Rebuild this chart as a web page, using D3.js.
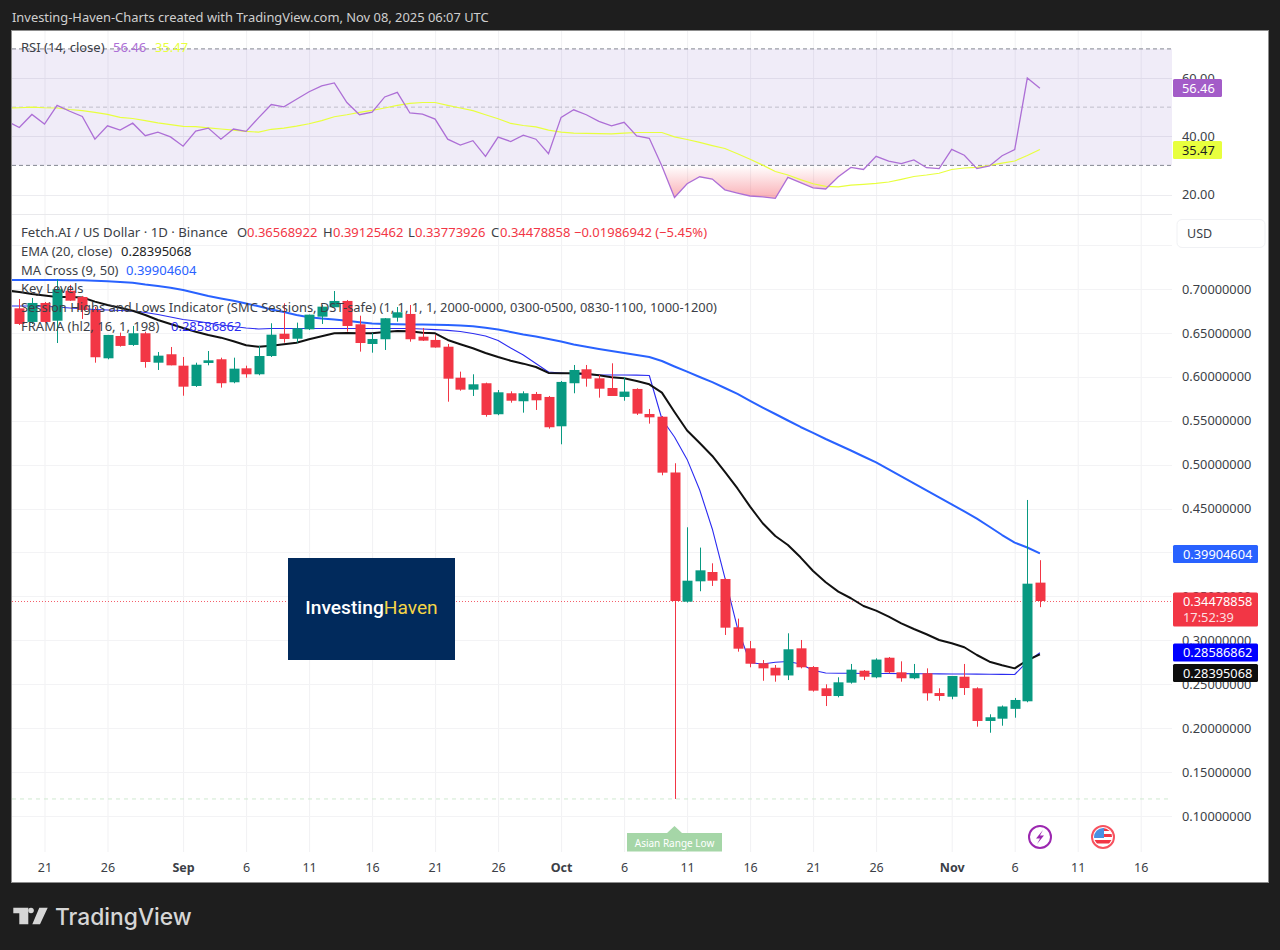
<!DOCTYPE html>
<html><head><meta charset="utf-8">
<script src="https://cdnjs.cloudflare.com/ajax/libs/d3/7.8.5/d3.min.js"></script>
<style>html,body{margin:0;padding:0;background:#1e1e1e}svg{display:block}text{font-family:"Noto Sans",sans-serif}</style>
</head><body><svg id="c" width="1280" height="950"></svg>
<script>
// first line-value date is 18 Aug 2025; candles start 19 Aug
const opens=[.6780,.6625,.6841,.6639,.6981,.6909,.6761,.6211,.6465,.6363,.6496,.6161,.6257,
.6127,.5896,.6158,.6200,.5938,.6097,.6029,.6237,.6491,.6434,.6541,.6685,.6792,.6864,.6598,.6374,.6428,.6673,.6716,.6457,.6420,.6343,.5990,.5854,.5927,.5574,.5813,.5722,.5805,.5771,
.5437,.5927,.6086,.5983,.5873,.5771,.5862,.5577,.5546,.4911,.3440,.3672,.3778,.3698,.3149,.2909,.2739,.2688,.2600,.2909,.2696,.2454,.2366,.2518,.2654,.2579,.2802,.2636,.2568,.2625,.2400,
.2358,.2586,.2454,.2082,.2108,.2220,.2306,.36568922];
const highs=[.6886,.6898,.6852,.7114,.7046,.6921,.6795,.6477,.6503,.6579,.6514,.6283,.6340,
.6226,.6161,.6294,.6218,.6218,.6127,.6352,.6610,.6837,.6617,.6708,.6818,.6977,.6875,.6696,.6499,.6670,.6795,.6818,.6556,.6477,.6374,.6059,.6029,.5934,.5850,.5835,.5835,.5828,.5782,
.5953,.6135,.6135,.6021,.6154,.5995,.5870,.5634,.5554,.5016,.4287,.4056,.3877,.3706,.3247,.2993,.2776,.2719,.3080,.3004,.2707,.2499,.2579,.2731,.2662,.2795,.2810,.2761,.2731,.2681,.2454,
.2594,.2731,.2465,.2158,.2258,.2344,.4598,.39125462];
const lows=[.6590,.6602,.6613,.6385,.6864,.6659,.6161,.6200,.6344,.6352,.6104,.6078,.6131,
.5785,.5885,.6131,.5877,.5927,.5990,.6018,.6226,.6389,.6389,.6533,.6602,.6789,.6514,.6287,.6275,.6306,.6628,.6400,.6408,.6332,.5717,.5842,.5782,.5546,.5563,.5706,.5592,.5623,.5410,
.5232,.5813,.5888,.5763,.5862,.5728,.5566,.5467,.4879,.1194,.3430,.3559,.3619,.3061,.2871,.2693,.2540,.2529,.2548,.2681,.2416,.2252,.2351,.2507,.2548,.2568,.2625,.2529,.2557,.2313,.2313,
.2329,.2378,.2017,.1948,.2028,.2119,.2295,.33773926];
const closes=[.6602,.6841,.6625,.6997,.6867,.6761,.6223,.6477,.6352,.6496,.6169,.6241,.6131,
.5888,.6138,.6188,.5927,.6093,.6029,.6237,.6480,.6431,.6553,.6708,.6799,.6864,.6579,.6385,.6431,.6667,.6735,.6428,.6412,.6334,.5979,.5854,.5915,.5566,.5824,.5728,.5813,.5733,.5426,
.5942,.6078,.5979,.5865,.5782,.5832,.5581,.5539,.4909,.34478,.3679,.3797,.3679,.3144,.2905,.2734,.2681,.2600,.2898,.2693,.2427,.2366,.2522,.2666,.2586,.2781,.2636,.2568,.2625,.2397,.2366,
.2594,.2457,.2082,.2124,.2247,.2321,.3645,.34478858];
const ema=[.6983,.6966,.6943,.6926,.6909,.6909,.6903,.6856,.6818,.6787,.6753,.6704,.6647,.6602,
.6556,.6514,.6477,.6446,.6405,.6359,.6343,.6355,.6371,.6389,.6428,.6462,.6496,.6499,.6496,.6496,.6511,.6522,.6519,.6503,.6496,.6420,.6371,.6325,.6272,.6226,.6184,.6150,.6112,.6044,
.6040,.6040,.6036,.6018,.5995,.5983,.5953,.5915,.5820,.5600,.5389,.5247,.5099,.4917,.4729,.4522,.4333,.4188,.4085,.3945,.3789,.3661,.3554,.3479,.3391,.3338,.3269,.3194,.3129,.3069,.3004,
.2966,.2921,.2833,.2757,.2716,.2681,.2773,.28395068];
const maSlow=[.7103,.7103,.7103,.7103,.7103,.7100,.7099,.7094,.7088,.7080,.7072,.7051,.7034,.7015,
.6989,.6955,.6921,.6892,.6866,.6835,.6803,.6767,.6738,.6704,.6679,.6664,.6653,.6638,.6621,.6607,.6602,.6598,.6596,.6595,.6593,.6590,.6585,.6577,.6560,.6539,.6511,.6482,.6459,.6431,
.6402,.6368,.6343,.6317,.6294,.6272,.6249,.6226,.6180,.6118,.6059,.5998,.5939,.5873,.5805,.5725,.5649,.5577,.5503,.5429,.5361,.5292,.5227,.5161,.5093,.5025,.4947,.4868,.4788,.4708,.4629,
.4548,.4468,.4386,.4293,.4199,.4113,.4057,.39904604];
const frama=[.6807,.6807,.6807,.6803,.6795,.6784,.6776,.6767,.6761,.6755,.6750,.6733,.6710,.6681,
.6653,.6636,.6613,.6590,.6573,.6556,.6545,.6550,.6550,.6550,.6550,.6550,.6550,.6550,.6550,.6550,.6550,.6550,.6550,.6545,.6537,.6529,.6517,.6494,.6465,.6414,.6328,.6249,.6152,
.6055,.6044,.6032,.6027,.6021,.6021,.6021,.6019,.6015,.5520,.5315,.5060,.4712,.4268,.3710,.3140,.2745,.2731,.2750,.2759,.2731,.2659,.2628,.2625,.2625,.2622,.2622,.2622,.2621,.2620,.2619,.2618,
.2617,.2616,.2615,.2614,.2612,.2611,.2757,.28586862];
const rsi=[45.2,43.0,47.5,44.2,50.6,48.6,46.8,39.0,43.6,42.1,44.5,40.2,41.4,39.8,
36.6,41.8,42.8,39.0,42.5,41.7,46.4,50.9,50.1,52.7,55.3,57.3,58.3,51.6,47.4,48.3,53.5,55.1,48.0,47.6,45.9,39.0,37.0,38.5,33.1,39.7,38.2,40.4,39.0,34.0,
46.5,49.1,47.4,45.1,43.6,44.8,40.1,39.3,29.8,19.0,23.7,26.1,25.3,21.6,20.5,19.5,19.2,18.7,25.9,24.1,22.3,21.9,26.1,29.3,28.6,33.1,31.5,30.6,31.9,29.2,28.9,
35.5,33.5,28.9,29.8,33.3,35.4,60.0,56.46];
const rsiMa=[49.7,49.8,50.0,49.8,49.7,49.2,48.8,48.2,47.5,46.5,46.1,45.4,44.6,44.0,
43.4,43.3,42.9,42.5,42.1,41.7,41.4,42.4,42.8,43.5,44.3,45.4,46.7,47.4,48.2,48.9,49.7,50.6,51.3,51.6,51.6,50.6,49.7,48.8,47.4,46.0,44.4,43.7,43.2,42.1,
41.4,41.1,41.0,40.9,40.8,41.1,41.3,41.3,41.3,39.8,38.9,37.9,36.8,35.8,34.0,32.1,30.1,27.9,26.7,25.1,23.7,22.8,22.6,23.2,23.5,23.8,24.3,25.2,26.2,26.7,27.3,
28.6,29.1,29.3,30.0,30.8,31.5,33.4,35.47];
const priceTicks=[.10,.15,.20,.25,.30,.35,.40,.45,.50,.55,.60,.65,.70];
const priceGrid=[.10,.15,.20,.25,.30,.35,.40,.45,.50,.55,.60,.65,.70,.75];
const rsiTicks=[20,40,60];
const rsiBands=[70,50,30];
const timeTicks=["2025-08-21","2025-08-26","2025-09-01","2025-09-06","2025-09-11","2025-09-16","2025-09-21","2025-09-26","2025-10-01","2025-10-06","2025-10-11","2025-10-16","2025-10-21","2025-10-26","2025-11-01","2025-11-06","2025-11-11","2025-11-16"].map(d=>new Date(d+"T00:00:00Z"));
const lineStart=new Date("2025-08-18T00:00:00Z");
const asianLow=.1194, lastClose=.34478858;

const W={l:12,r:1268,t:31,b:882,plot:1172,axis:852,sep:214};
const svg=d3.select("#c");
const day=i=>d3.utcDay.offset(lineStart,i);
const x=d3.scaleUtc().domain([new Date("2025-08-21T00:00:00Z"),new Date("2025-11-16T00:00:00Z")]).range([44.5,44.5+12.6*87]);
const y=d3.scaleLinear().domain([.1,.7]).range([816,289]);
const r=d3.scaleLinear().domain([30,70]).range([165.4,48.9]);
const RED="#f23645",GRN="#089981",TXT="#3c3f47";

svg.append("rect").attr("width",1280).attr("height",950).attr("fill","#1e1e1e");
svg.append("rect").attr("x",W.l-.5).attr("y",W.t-.5).attr("width",W.r-W.l+1).attr("height",W.b-W.t+1).attr("fill","#fff").attr("stroke","#8d8d8d");
const defs=svg.append("defs");
defs.append("clipPath").attr("id","cp").append("rect").attr("x",W.l).attr("y",W.t).attr("width",W.plot-W.l).attr("height",W.axis-W.t);
defs.append("clipPath").attr("id","cpOS").append("rect").attr("x",W.l).attr("y",r(30)).attr("width",W.plot-W.l).attr("height",W.sep-r(30));
const gr=defs.append("linearGradient").attr("id","osg").attr("gradientUnits","userSpaceOnUse").attr("x1",0).attr("x2",0).attr("y1",r(30)).attr("y2",r(18));
gr.append("stop").attr("offset",0).attr("stop-color",RED).attr("stop-opacity",0);
gr.append("stop").attr("offset",1).attr("stop-color",RED).attr("stop-opacity",.42);

const P=svg.append("g").attr("clip-path","url(#cp)");
// grids
P.selectAll(".v").data(timeTicks).join("line").attr("x1",d=>x(d)+.5).attr("x2",d=>x(d)+.5).attr("y1",W.t).attr("y2",W.axis).attr("stroke","#f1f1f3");
P.selectAll(".h").data(priceGrid).join("line").attr("x1",W.l).attr("x2",W.plot).attr("y1",d=>Math.round(y(d))+.5).attr("y2",d=>Math.round(y(d))+.5).attr("stroke","#f3f3f5");
P.selectAll(".hr").data(rsiTicks).join("line").attr("x1",W.l).attr("x2",W.plot).attr("y1",d=>Math.round(r(d))+.5).attr("y2",d=>Math.round(r(d))+.5).attr("stroke","#ececf0");
P.append("line").attr("x1",W.l).attr("x2",1268).attr("y1",W.sep+.5).attr("y2",W.sep+.5).attr("stroke","#e9e9ec");
// RSI pane
P.append("rect").attr("x",W.l).attr("y",r(70)).attr("width",W.plot-W.l).attr("height",r(30)-r(70)).attr("fill","#7e57c2").attr("fill-opacity",.115);
P.selectAll(".b").data(rsiBands).join("line").attr("x1",W.l).attr("x2",W.plot).attr("y1",d=>r(d)).attr("y2",d=>r(d))
 .attr("stroke","#787b86").attr("stroke-opacity",d=>d===50?.4:.9).attr("stroke-width",1).attr("stroke-dasharray","4 3");
const rowsR=rsi.map((v,i)=>({d:day(i),v,m:rsiMa[i]}));
P.append("path").attr("clip-path","url(#cpOS)").attr("fill","url(#osg)")
 .attr("d",d3.area().x(d=>x(d.d)).y0(r(30)).y1(d=>r(d.v))(rowsR));
P.append("path").attr("fill","none").attr("stroke","#e8ff3e").attr("stroke-width",1.2).attr("d",d3.line().x(d=>x(d.d)).y(d=>r(d.m))(rowsR));
P.append("path").attr("fill","none").attr("stroke","#ad6fd6").attr("stroke-width",1.3).attr("d",d3.line().x(d=>x(d.d)).y(d=>r(d.v))(rowsR));
// price lines
P.append("line").attr("x1",W.l).attr("x2",W.plot).attr("y1",y(asianLow)).attr("y2",y(asianLow)).attr("stroke","#cfe9d0").attr("stroke-dasharray","4 4");
P.append("line").attr("x1",W.l).attr("x2",W.plot).attr("y1",Math.round(y(lastClose))+.5).attr("y2",Math.round(y(lastClose))+.5).attr("stroke",RED).attr("stroke-opacity",.8).attr("stroke-dasharray","1 2");
const ln=(arr,c,w)=>P.append("path").attr("fill","none").attr("stroke",c).attr("stroke-width",w).attr("stroke-linejoin","round")
 .attr("d",d3.line().x((d,i)=>x(day(i))).y(d=>y(d))(arr));
ln(maSlow,"#2962ff",2); ln(frama,"#2b2bf0",1.1); ln(ema,"#111",2);
// candles
const cs=opens.map((o,i)=>({d:day(i+1),o,h:highs[i],l:lows[i],c:closes[i]}));
const g=P.selectAll(".k").data(cs).join("g").attr("fill",d=>d.c>=d.o?GRN:RED).attr("stroke",d=>d.c>=d.o?GRN:RED);
g.append("line").attr("x1",d=>Math.round(x(d.d))+.5).attr("x2",d=>Math.round(x(d.d))+.5).attr("y1",d=>y(d.h)).attr("y2",d=>y(d.l));
g.append("rect").attr("x",d=>Math.round(x(d.d))-4.5).attr("width",10).attr("y",d=>y(Math.max(d.o,d.c))).attr("height",d=>Math.max(1,Math.abs(y(d.o)-y(d.c)))).attr("stroke","none");

// logo
svg.append("rect").attr("x",288).attr("y",558).attr("width",167).attr("height",102).attr("fill","#012a5c");
const lg=svg.append("text").attr("x",371.5).attr("y",614).attr("text-anchor","middle").attr("font-size",19.2).style("font-family","Roboto");
lg.append("tspan").text("Investing").attr("fill","#fff").attr("font-weight",500);
lg.append("tspan").text("Haven").attr("fill","#f5d547");

// Asian Range label
svg.append("path").attr("fill","#a5d6a7").attr("d",d3.line()([[674.5,826],[682,833],[722,833],[722,851.5],[627,851.5],[627,833],[667,833]])+"Z");
svg.append("text").attr("x",674.5).attr("y",847).attr("text-anchor","middle").attr("font-size",10).attr("fill","#fff").text("Asian Range Low");

// event icons
svg.append("circle").attr("cx",1040).attr("cy",837).attr("r",11).attr("fill","#fff").attr("stroke","#9c27b0").attr("stroke-width",2);
svg.append("path").attr("d","M1043,830 L1036,838.5 L1040,838.5 L1037,844 L1044,835.5 L1040,835.5Z").attr("fill","#9c27b0");
svg.append("circle").attr("cx",1103).attr("cy",837).attr("r",11).attr("fill","#fff").attr("stroke","#f7525f").attr("stroke-width",2);
defs.append("clipPath").attr("id","fl").append("circle").attr("cx",1103).attr("cy",837).attr("r",9);
const fl=svg.append("g").attr("clip-path","url(#fl)");
fl.append("rect").attr("x",1103).attr("y",828).attr("width",10).attr("height",3).attr("fill","#f23645");
fl.append("rect").attr("x",1103).attr("y",834).attr("width",10).attr("height",3).attr("fill","#f23645");
fl.append("rect").attr("x",1094).attr("y",840).attr("width",18).attr("height",3.5).attr("fill","#f23645");
fl.append("rect").attr("x",1094).attr("y",828).attr("width",10).attr("height",10).attr("fill","#4a90e2");

// axes
const xa=svg.append("g").attr("transform",`translate(0,${W.axis+7})`).call(d3.axisBottom(x).tickValues(timeTicks).tickSize(0).tickFormat(d=>d.getUTCDate()===1?d3.utcFormat("%b")(d):d3.utcFormat("%-d")(d)));
xa.select(".domain").remove();
xa.selectAll("text").attr("fill",TXT).attr("font-size",12.5).attr("font-weight",d=>d.getUTCDate()===1?700:400).attr("y",4);
const ya=svg.append("g").attr("transform","translate(1182,0)").call(d3.axisRight(y).tickValues(priceTicks).tickSize(0).tickFormat(d3.format(".8f")));
ya.select(".domain").remove();
ya.selectAll("text").attr("fill",TXT).attr("font-size",12.8).attr("x",0);
const ra=svg.append("g").attr("transform","translate(1182,0)").call(d3.axisRight(r).tickValues(rsiTicks).tickSize(0).tickFormat(d3.format(".2f")));
ra.select(".domain").remove();
ra.selectAll("text").attr("fill",TXT).attr("font-size",12.8).attr("x",0);

// USD button
svg.append("rect").attr("x",1177).attr("y",219.5).attr("width",88).attr("height",28).attr("rx",5).attr("fill","#fff").attr("stroke","#f0f1f4");
svg.append("text").attr("x",1187).attr("y",238).attr("font-size",12.5).attr("fill",TXT).text("USD");

// value tags
const tag=(x0,w,y0,h,fill,lines,col)=>{
 svg.append("rect").attr("x",x0).attr("y",y0).attr("width",w).attr("height",h).attr("rx",1.5).attr("fill",fill);
 lines.forEach((t,i)=>svg.append("text").attr("x",x0+(w>60?10:9)).attr("y",y0+13.5+i*16).attr("font-size",12.8).attr("fill",col).attr("fill-opacity",i?.85:1).text(t));
};
tag(1173,49,79,18,"#a35cc8",[d3.format(".2f")(rsi[rsi.length-1])],"#fff");
tag(1173,49,141,18,"#e8ff3e",[d3.format(".2f")(rsiMa[rsiMa.length-1])],"#1e1e1e");
tag(1173,85,545,18,"#2962ff",[d3.format(".8f")(maSlow[maSlow.length-1])],"#fff");
tag(1173,85,592.5,34,RED,[d3.format(".8f")(lastClose),"17:52:39"],"#fff");
tag(1173,85,643.5,18,"#0000ff",[d3.format(".8f")(frama[frama.length-1])],"#fff");
tag(1173,85,664,18,"#0d0d0d",[d3.format(".8f")(ema[ema.length-1])],"#fff");

// legends
const T=(xx,yy,t,c,fs)=>svg.append("text").attr("x",xx).attr("y",yy).attr("font-size",fs||13).attr("fill",c).text(t);
T(21,52,"RSI (14, close)",TXT); T(113,52,"56.46","#ad6fd6"); T(155,52,"35.47","#e8ff3e");
T(21,237,"Fetch.AI / US Dollar · 1D · Binance",TXT,13.2);
[["O",237,"0.36568922",247],["H",323,"0.39125462",333],["L",408,"0.33773926",415],["C",491,"0.34478858",500]].forEach(a=>{T(a[1],237,a[0],TXT);T(a[3],237,a[2],RED);});
T(574,237,"−0.01986942 (−5.45%)",RED);
T(21,256,"EMA (20, close)",TXT); T(121,256,"0.28395068","#222");
T(21,275,"MA Cross (9, 50)",TXT); T(126,275,"0.39904604","#2962ff");
T(21,293,"Key Levels",TXT);
T(21,312,"Session Highs and Lows Indicator (SMC Sessions, DST-safe) (1, 1, 1, 1, 2000-0000, 0300-0500, 0830-1100, 1000-1200)",TXT,12.9);
T(21,331,"FRAMA (hl2, 16, 1, 198)",TXT); T(171,331,"0.28586862","#2b2bf0");

// header + footer
svg.append("text").attr("x",12).attr("y",22).attr("font-size",12.9).attr("fill","#cfcfcf").text("Investing-Haven-Charts created with TradingView.com, Nov 08, 2025 06:07 UTC");
svg.append("path").attr("fill","#d6d6d6").attr("d","M13.3,907.7H28.3V924.3H19.3V913.3H13.3Z M39.3,907.7H47.7L40,924.3H32.3Z");
svg.append("circle").attr("cx",31).attr("cy",910.5).attr("r",2.8).attr("fill","#d6d6d6");
svg.append("text").attr("x",55).attr("y",925).attr("font-size",22.8).attr("font-weight",500).attr("fill","#d6d6d6").style("font-family","Inter").text("TradingView");
</script></body></html>
